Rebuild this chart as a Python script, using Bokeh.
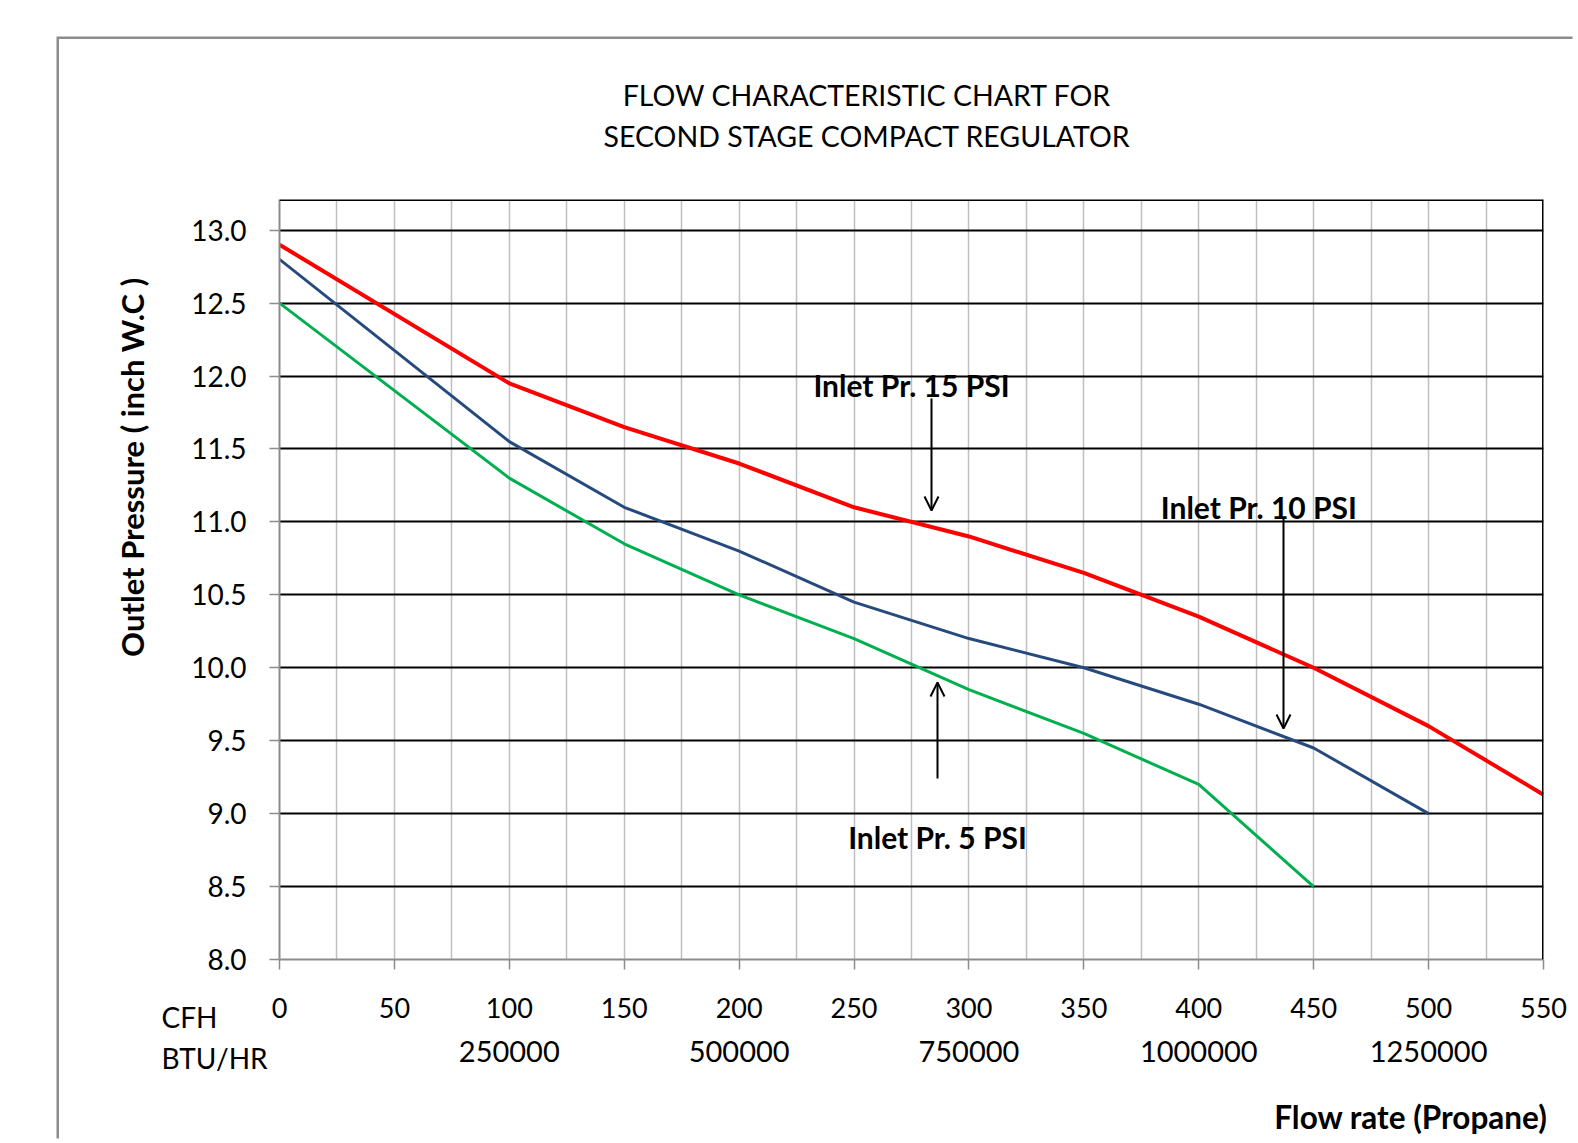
from bokeh.plotting import figure
from bokeh.models import (FixedTicker, LinearAxis, Label, Arrow, OpenHead,
                          PrintfTickFormatter)
from bokeh.embed import file_html
from bokeh.resources import INLINE

# ---------------- data ----------------
cfh_ticks = [0, 50, 100, 150, 200, 250, 300, 350, 400, 450, 500, 550]
btu_ticks = [100, 200, 300, 400, 500]
btu_labels = ["250000", "500000", "750000", "1000000", "1250000"]
y_ticks = [8.0, 8.5, 9.0, 9.5, 10.0, 10.5, 11.0, 11.5, 12.0, 12.5, 13.0]

flow_15 = [0, 100, 150, 200, 250, 300, 350, 400, 450, 500, 550]
pres_15 = [12.9, 11.95, 11.65, 11.4, 11.1, 10.9, 10.65, 10.35, 10.0, 9.6, 9.13]

flow_10 = [0, 100, 150, 200, 250, 300, 350, 400, 450, 500]
pres_10 = [12.8, 11.55, 11.1, 10.8, 10.45, 10.2, 10.0, 9.75, 9.45, 9.0]

flow_5 = [0, 100, 150, 200, 250, 300, 350, 400, 450]
pres_5 = [12.5, 11.3, 10.85, 10.5, 10.2, 9.85, 9.55, 9.2, 8.5]

title_lines = ["FLOW CHARACTERISTIC CHART FOR", "SECOND STAGE COMPACT REGULATOR"]
y_title = "Outlet Pressure  ( inch W.C )"
x_title = "Flow rate (Propane)"
row_names = ["CFH", "BTU/HR"]
notes = ["Inlet Pr. 15 PSI", "Inlet Pr.  10 PSI", "Inlet Pr. 5 PSI"]

# ---------------- geometry (page pixels) ----------------
OX, OY = 59, 39                 # figure origin on the page (inside the grey chart frame)
MB_L, MB_T, MB_R, MB_B = 220, 160, 32, 182
FW, FH = 1264, 760
FL, FT = OX + MB_L, OY + MB_T   # frame position on the page
X0, X1 = 0, 550
Y0, Y1 = 8.0, 13.21


def dx(px):
    return X0 + (px - FL) / FW * (X1 - X0)


def dy(py):
    return Y1 - (py - FT) / FH * (Y1 - Y0)


FONT = "Lato"
GRAY = "#8C8C8C"

p = figure(frame_width=FW, frame_height=FH,
           min_border_left=MB_L, min_border_top=MB_T,
           min_border_right=MB_R, min_border_bottom=MB_B,
           x_range=(X0, X1), y_range=(Y0, Y1),
           output_backend="svg", toolbar_location=None,
           background_fill_color="white", border_fill_color="white")
p.title.visible = False
p.outline_line_color = None
p.margin = (OY, 0, 0, OX)
p.styles = {"box-shadow": "-2.5px -2.5px 0px 0px #8C8C8C"}

# grids
p.xgrid.ticker = FixedTicker(ticks=list(range(25, 550, 25)))
p.xgrid.grid_line_color = "#BFBFBF"
p.xgrid.grid_line_width = 1.5
p.ygrid.ticker = FixedTicker(ticks=y_ticks[1:])
p.ygrid.grid_line_color = "black"
p.ygrid.grid_line_width = 2.2

# axes
for ax in (p.xaxis[0], p.yaxis[0]):
    ax.axis_line_color = GRAY
    ax.axis_line_width = 2
    ax.major_tick_line_color = GRAY
    ax.major_tick_line_width = 1.5
    ax.major_tick_out = 10
    ax.major_tick_in = 0
    ax.minor_tick_line_color = None
    ax.major_label_text_font = FONT
    ax.major_label_text_color = "black"

p.xaxis[0].ticker = FixedTicker(ticks=cfh_ticks)
p.xaxis[0].major_label_standoff = 28
p.xaxis[0].major_label_text_font_size = "27px"
p.yaxis[0].ticker = FixedTicker(ticks=y_ticks)
p.yaxis[0].formatter = PrintfTickFormatter(format="%.1f")
p.yaxis[0].major_label_standoff = 23
p.yaxis[0].major_label_text_font_size = "28px"

btu_axis = LinearAxis(ticker=FixedTicker(ticks=btu_ticks),
                      major_label_overrides={t: s for t, s in zip(btu_ticks, btu_labels)},
                      axis_line_color=None, major_tick_line_color=None,
                      minor_tick_line_color=None, major_tick_out=0, major_tick_in=0,
                      major_label_standoff=20,
                      major_label_text_font=FONT, major_label_text_font_size="29px",
                      major_label_text_color="black")
p.add_layout(btu_axis, "below")

# series
p.line(flow_15, pres_15, line_color="#FF0000", line_width=4)
p.line(flow_10, pres_10, line_color="#264A7E", line_width=3)
p.line(flow_5, pres_5, line_color="#00B050", line_width=3)

# plot area top / right borders
p.add_layout(Arrow(end=None, x_start=X0, y_start=Y1, x_end=X1, y_end=Y1,
                   line_color="black", line_width=3))
p.add_layout(Arrow(end=None, x_start=X1, y_start=Y0, x_end=X1, y_end=Y1,
                   line_color="black", line_width=3))

# texts outside the plot area live in side panels (positions in data units)
for txt, py in zip(title_lines, [94.6, 135.9]):
    p.add_layout(Label(x=dx(866.5), y=dy(py), text=txt, text_align="center",
                       text_baseline="middle", text_font=FONT, text_font_size="28.5px",
                       text_color="black"), "above")

p.add_layout(Label(x=dx(131), y=dy(463), text=y_title, angle=90, angle_units="deg",
                   text_align="center", text_baseline="middle", text_font=FONT,
                   text_font_size="31px", text_font_style="bold", text_color="black"), "left")
p.add_layout(Label(x=dx(1547), y=dy(1116), text=x_title, text_align="right",
                   text_baseline="middle", text_font=FONT, text_font_size="31.5px",
                   text_font_style="bold", text_color="black"), "above")
for txt, py, side in zip(row_names, [1016.5, 1057], ["left", "above"]):
    p.add_layout(Label(x=dx(161), y=dy(py), text=txt, text_align="left",
                       text_baseline="middle", text_font=FONT, text_font_size="28px",
                       text_color="black"), side)

# annotations inside the plot area
for txt, (px, py) in zip(notes, [(911, 384.5), (1262, 506), (937, 836)]):
    p.add_layout(Label(x=dx(px), y=dy(py), text=txt, text_align="center",
                       text_baseline="middle", text_font=FONT, text_font_size="30px",
                       text_font_style="bold", text_color="black"))

for (ax_, y_a, y_b) in [(931, 398, 510), (1283, 517, 728), (937, 778, 682)]:
    p.add_layout(Arrow(end=OpenHead(size=14, line_width=2, line_color="black"),
                       x_start=dx(ax_), y_start=dy(y_a), x_end=dx(ax_), y_end=dy(y_b),
                       line_color="black", line_width=2))

open("out.html", "w").write(file_html(p, INLINE))
